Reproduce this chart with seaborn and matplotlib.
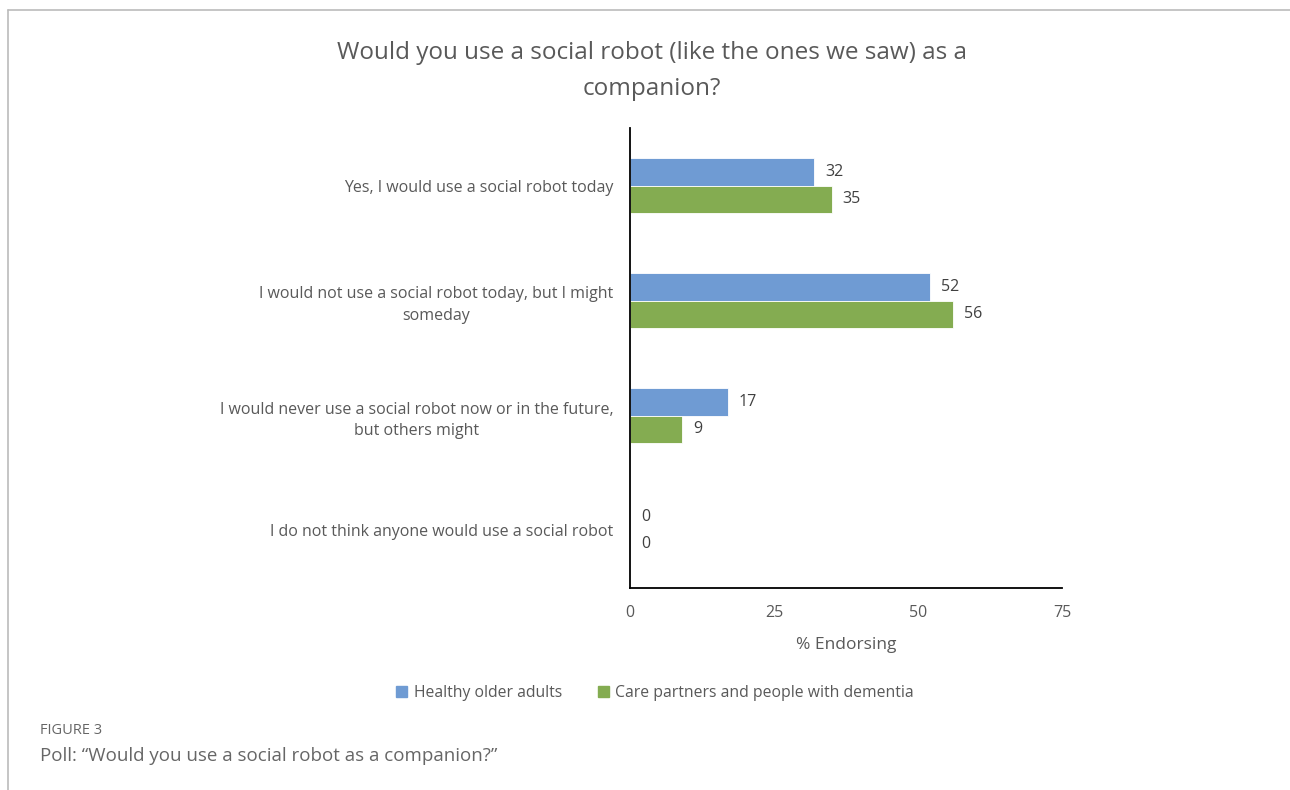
import matplotlib
matplotlib.use("Agg")
import matplotlib.pyplot as plt
import seaborn as sns
import pandas as pd
from matplotlib.lines import Line2D

categories = [
    "Yes, I would use a social robot today",
    "I would not use a social robot today, but I might\nsomeday",
    "I would never use a social robot now or in the future,\nbut others might",
    "I do not think anyone would use a social robot",
]
series = ["Healthy older adults", "Care partners and people with dementia"]
healthy = [32, 52, 17, 0]
care = [35, 56, 9, 0]
xticks = [0, 25, 50, 75]

sns.set_theme(style="white")
plt.rcParams["font.family"] = ["Open Sans", "DejaVu Sans"]

df = pd.DataFrame({
    "category": categories * 2,
    "group": [series[0]] * 4 + [series[1]] * 4,
    "value": healthy + care,
})

colors = ["#6F9BD3", "#84AC51"]
text_col = "#595959"

fig = plt.figure(figsize=(12.9, 7.9), dpi=100)
ax = fig.add_axes([630/1290, 1-588/790, 432/1290, 460/790])
sns.barplot(data=df, y="category", x="value", hue="group", order=categories,
            hue_order=series, palette=colors, orient="h", width=0.47,
            saturation=1, ax=ax, legend=False, edgecolor="white", linewidth=0.6)

for cont in ax.containers:
    ax.bar_label(cont, fmt="%d", padding=8, fontsize=11.5, color="#404040")

ax.set_xlim(0, 75)
ax.set_ylim(3.5, -0.5)
ax.set_xticks(xticks)
ax.set_xticklabels([str(t) for t in xticks])
ax.tick_params(axis="x", length=0, pad=12, labelsize=11.5, labelcolor=text_col)
ax.tick_params(axis="y", length=0, pad=12, labelsize=11.5, labelcolor=text_col)
for lbl in ax.get_yticklabels():
    lbl.set_multialignment("center")
    lbl.set_linespacing(1.45)
ax.set_ylabel("")
ax.set_xlabel("% Endorsing", fontsize=12.5, color=text_col, labelpad=12)
for s in ["top", "right"]:
    ax.spines[s].set_visible(False)
for s in ["left", "bottom"]:
    ax.spines[s].set_color("black")
    ax.spines[s].set_linewidth(1.3)

fig.text(652/1290, 1-71/790, "Would you use a social robot (like the ones we saw) as a\ncompanion?",
         ha="center", va="center", fontsize=17.5, color=text_col, linespacing=1.7)

handles = [plt.Rectangle((0, 0), 1, 1, color=c) for c in colors]
fig.legend(handles, series, loc="center", bbox_to_anchor=(655/1290, 1-693/790),
           ncol=2, frameon=False, fontsize=11.3, handlelength=0.7, handleheight=0.7,
           handletextpad=0.4, columnspacing=2.3, labelcolor=text_col)

fig.text(40/1290, 1-731/790, "FIGURE 3", fontsize=10.5, color="#666666", va="center", ha="left")
fig.text(40/1290, 1-756/790, "Poll: \u201cWould you use a social robot as a companion?\u201d",
         fontsize=13.5, color="#666666", va="center", ha="left")

fig.add_artist(Line2D([8/1290, 1], [1-10/790, 1-10/790], color="#BBBBBB", lw=1.2,
                      transform=fig.transFigure))
fig.add_artist(Line2D([8/1290, 8/1290], [0, 1-10/790], color="#BBBBBB", lw=1.2,
                      transform=fig.transFigure))

fig.savefig("out.png", dpi=100)
